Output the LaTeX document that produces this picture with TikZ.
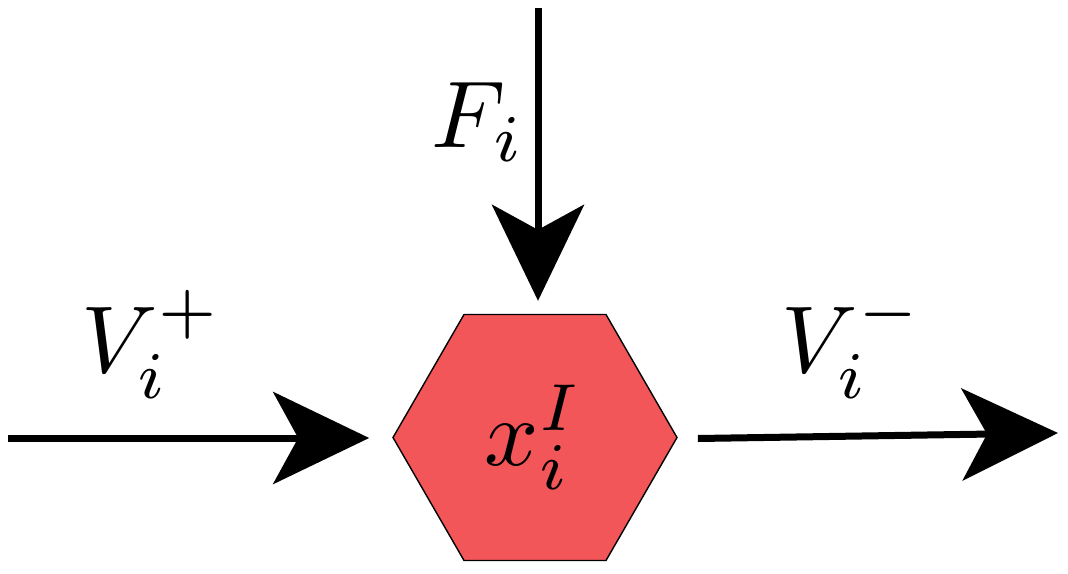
\documentclass[tikz,border=0pt]{standalone}
\usetikzlibrary{arrows.meta,shapes.geometric}
\definecolor{hexred}{RGB}{242,86,88}
\tikzset{
  arr/.style={line width=7pt,-{Stealth[length=96pt,width=92pt,inset=25pt]}},
  hexbox/.style={regular polygon,regular polygon sides=6,minimum size=284pt,inner sep=0pt,
    fill=hexred,draw=black,line width=1.4pt},
  lbl/.style={inner sep=0pt,anchor=base west,scale=9.5}
}
\begin{document}
\begin{tikzpicture}[x=1pt,y=-1pt]
\useasboundingbox (0,0) rectangle (1068,573);
\node[hexbox] (hex) at (535,437.5) {};
\node[lbl] (xl) at (483,465) {$x_i^I$};
\coordinate (lin) at (8,438);
\coordinate (top) at (538,8);
\coordinate (rout) at (1058,433);
\draw[arr] (lin) -- ([xshift=-23pt,yshift=-0.5pt]hex.west);
\draw[arr] (top) -- ([yshift=13pt,xshift=3pt]hex.north);
\draw[arr] ([xshift=20pt,yshift=-1pt]hex.east) -- (rout);
\node[lbl] (fl) at (430,147) {$F_i$};
\node[lbl] (vp) at (80,372) {$V_i^+$};
\node[lbl] (vm) at (780,372) {$V_i^-$};
\end{tikzpicture}
\end{document}
